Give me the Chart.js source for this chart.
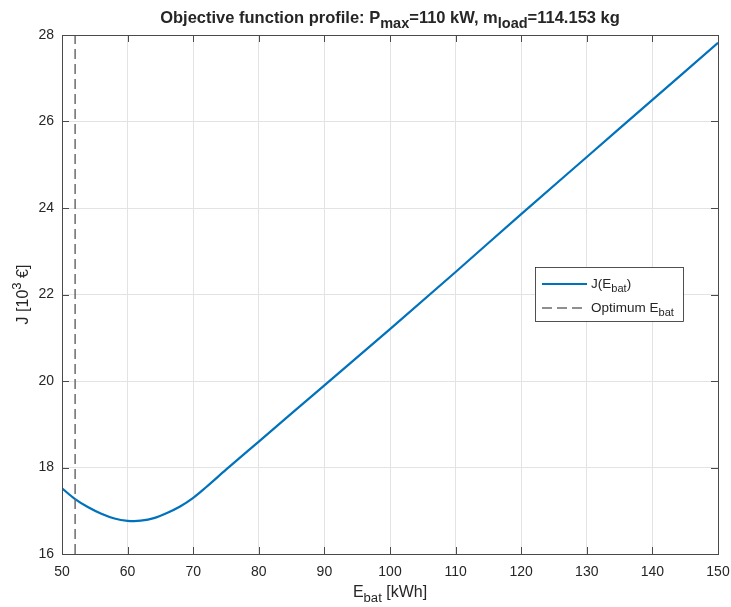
<!DOCTYPE html>
<html>
<head>
<meta charset="utf-8">
<script src="https://cdn.jsdelivr.net/npm/chart.js@4/dist/chart.umd.min.js"></script>
<style>
  html, body { margin: 0; padding: 0; background: #fff; }
  #chart { display: block; }
</style>
</head>
<body>
<canvas id="chart" width="731" height="607"></canvas>
<script>
// Data
const eBat = [50, 52, 54, 56, 58, 60, 61, 62, 64, 66, 68, 70, 72, 75, 80, 90, 100, 110, 120, 130, 140, 150];
const jCost = [17.52, 17.27, 17.08, 16.93, 16.82, 16.765, 16.76, 16.77, 16.83, 16.95, 17.1, 17.3, 17.55, 17.95, 18.6, 19.9, 21.2, 22.52, 23.86, 25.18, 26.5, 27.82];
const optimumX = [52, 52];
const optimumY = [16, 28];
const xTicks = [50, 60, 70, 80, 90, 100, 110, 120, 130, 140, 150];
const yTicks = [16, 18, 20, 22, 24, 26, 28];

const FONT = '"Liberation Sans", Arial, Helvetica, sans-serif';
const TEXT = '#262626';
const AXIS = '#4a4a4a';
const BLUE = '#0072BD';
const GREY = '#6b6b6b';

// draw text made of parts, some of them sub/superscript
function partSize(p, size, ratio) {
    return p.sub || p.sup ? size * ratio : size;
}

function drawRich(ctx, parts, x, y, size, weight, align, ratio, shift) {
    let w = 0;
    parts.forEach(p => {
        ctx.font = `${weight} ${partSize(p, size, ratio)}px ${FONT}`;
        w += ctx.measureText(p.t).width;
    });
    let cx = align === 'center' ? x - w / 2 : x;
    ctx.textAlign = 'left';
    ctx.textBaseline = 'alphabetic';
    parts.forEach(p => {
        ctx.font = `${weight} ${partSize(p, size, ratio)}px ${FONT}`;
        let dy = 0;
        if (p.sub) dy = shift;
        if (p.sup) dy = -size * 0.45;
        ctx.fillText(p.t, cx, y + dy);
        cx += ctx.measureText(p.t).width;
    });
}

const decorations = {
    id: 'decorations',
    afterDatasetsDraw(chart) {
        const ctx = chart.ctx;
        const a = chart.chartArea;
        const xs = chart.scales.x;
        const ys = chart.scales.y;
        ctx.save();

        // axes box
        ctx.strokeStyle = AXIS;
        ctx.lineWidth = 1;
        ctx.strokeRect(Math.round(a.left) + 0.5, Math.round(a.top) + 0.5,
            Math.round(a.right - a.left), Math.round(a.bottom - a.top));

        // inner ticks
        const tl = 7;
        ctx.beginPath();
        xTicks.forEach(v => {
            const px = Math.round(xs.getPixelForValue(v)) + 0.5;
            ctx.moveTo(px, a.bottom); ctx.lineTo(px, a.bottom - tl);
            ctx.moveTo(px, a.top); ctx.lineTo(px, a.top + tl);
        });
        yTicks.forEach(v => {
            const py = Math.round(ys.getPixelForValue(v)) + 0.5;
            ctx.moveTo(a.left, py); ctx.lineTo(a.left + tl, py);
            ctx.moveTo(a.right, py); ctx.lineTo(a.right - tl, py);
        });
        ctx.stroke();

        ctx.fillStyle = TEXT;
        // title
        drawRich(ctx, [
            { t: 'Objective function profile: P' }, { t: 'max', sub: true },
            { t: '=110 kW, m' }, { t: 'load', sub: true }, { t: '=114.153 kg' }
        ], (a.left + a.right) / 2, 23, 16.5, 'bold', 'center', 0.88, 5);

        // x label
        drawRich(ctx, [{ t: 'E' }, { t: 'bat', sub: true }, { t: ' [kWh]' }],
            (a.left + a.right) / 2, 597, 16, 'normal', 'center', 0.82, 5);

        // y label
        ctx.save();
        ctx.translate(28, (a.top + a.bottom) / 2);
        ctx.rotate(-Math.PI / 2);
        drawRich(ctx, [{ t: 'J [10' }, { t: '3', sup: true }, { t: ' €]' }],
            0, 0, 16, 'normal', 'center', 0.82, 5);
        ctx.restore();

        // legend
        const lx = 535, ly = 267, lw = 148, lh = 54;
        ctx.fillStyle = '#fff';
        ctx.fillRect(lx, ly, lw, lh);
        ctx.strokeStyle = '#262626';
        ctx.lineWidth = 0.8;
        ctx.strokeRect(lx + 0.5, ly + 0.5, lw, lh);

        ctx.lineWidth = 2;
        ctx.strokeStyle = BLUE;
        ctx.beginPath();
        ctx.moveTo(542, 284); ctx.lineTo(587, 284);
        ctx.stroke();

        ctx.lineWidth = 1.5;
        ctx.strokeStyle = GREY;
        ctx.setLineDash([10, 5]);
        ctx.beginPath();
        ctx.moveTo(542, 308); ctx.lineTo(587, 308);
        ctx.stroke();
        ctx.setLineDash([]);

        ctx.fillStyle = TEXT;
        drawRich(ctx, [{ t: 'J(E' }, { t: 'bat', sub: true }, { t: ')' }], 591, 288, 13.5, 'normal', 'left', 0.82, 4);
        drawRich(ctx, [{ t: 'Optimum E' }, { t: 'bat', sub: true }], 591, 312, 13.5, 'normal', 'left', 0.82, 4);

        ctx.restore();
    }
};

new Chart(document.getElementById('chart'), {
    type: 'scatter',
    data: {
        datasets: [
            {
                label: 'J(E_bat)',
                data: eBat.map((x, i) => ({ x: x, y: jCost[i] })),
                showLine: true,
                borderColor: BLUE,
                borderWidth: 2.2,
                pointRadius: 0,
                cubicInterpolationMode: 'monotone',
                order: 2
            },
            {
                label: 'Optimum E_bat',
                data: optimumX.map((x, i) => ({ x: x, y: optimumY[i] })),
                showLine: true,
                borderColor: GREY,
                borderWidth: 1.5,
                borderDash: [10, 5],
                pointRadius: 0,
                order: 1
            }
        ]
    },
    options: {
        responsive: false,
        devicePixelRatio: 1,
        animation: false,
        layout: { padding: { top: 35, right: 13, left: 0, bottom: 0 } },
        plugins: {
            legend: { display: false },
            title: { display: false },
            tooltip: { enabled: false }
        },
        scales: {
            x: {
                type: 'linear',
                min: 50,
                max: 150,
                afterBuildTicks: scale => { scale.ticks = xTicks.map(v => ({ value: v })); },
                afterFit: scale => {
                    scale.height = 53;
                    scale.paddingLeft = 0;
                    scale.paddingRight = 0;
                },
                grid: { color: '#e3e3e3', drawTicks: false },
                border: { display: false },
                ticks: { padding: 10, color: TEXT, font: { family: FONT, size: 14 }, maxRotation: 0 }
            },
            y: {
                min: 16,
                max: 28,
                afterBuildTicks: scale => { scale.ticks = yTicks.map(v => ({ value: v })); },
                afterFit: scale => {
                    scale.width = 62;
                    scale.paddingTop = 0;
                    scale.paddingBottom = 0;
                },
                grid: { color: '#e3e3e3', drawTicks: false },
                border: { display: false },
                ticks: { padding: 8, color: TEXT, font: { family: FONT, size: 14 } }
            }
        }
    },
    plugins: [decorations]
});
</script>
</body>
</html>
